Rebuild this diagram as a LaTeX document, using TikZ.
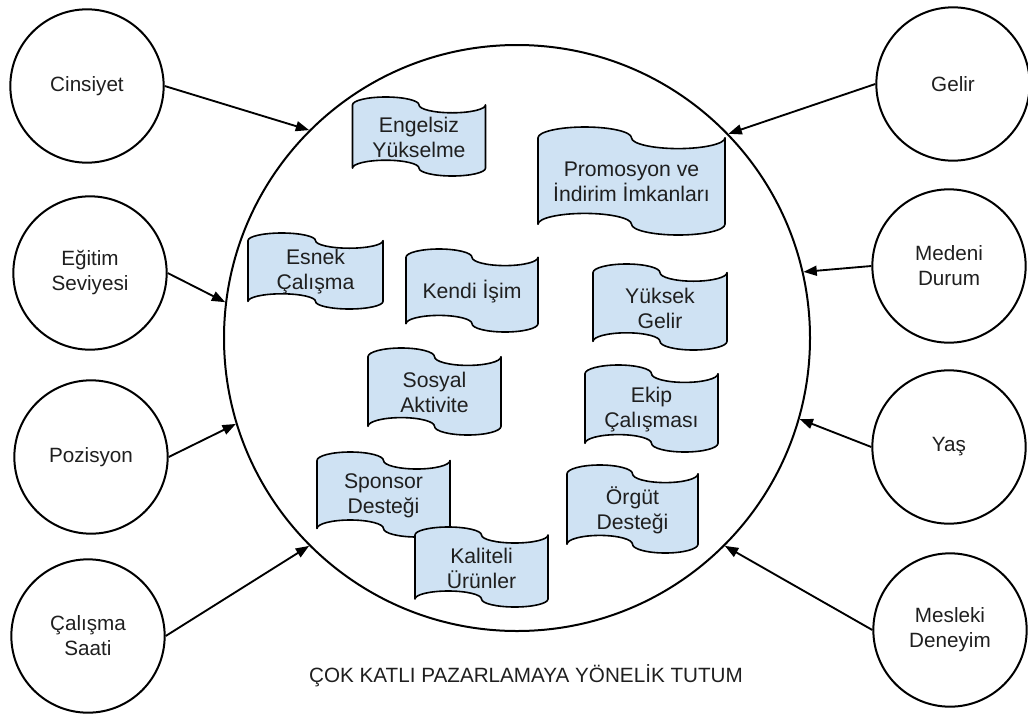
\documentclass[tikz,border=0pt]{standalone}
\usepackage{fontspec}
\setmainfont{Liberation Sans}
\usetikzlibrary{arrows.meta}

\definecolor{tapefill}{HTML}{CFE2F3}
\definecolor{inkgray}{HTML}{1F1F1F}

% punched-tape box: name, centre x, centre y, width, height, text
\newcommand{\wavebox}[6]{%
  \pgfmathsetmacro{\wbL}{#2-#4/2}%
  \pgfmathsetmacro{\wbR}{#2+#4/2}%
  \pgfmathsetmacro{\wbA}{#5/10}%
  \pgfmathsetmacro{\wbT}{#3-#5/2+\wbA}%
  \pgfmathsetmacro{\wbB}{#3+#5/2-\wbA}%
  \pgfmathsetmacro{\wbQ}{#4/4}%
  \path[tapebox] (\wbL,\wbT)
    arc[start angle=180,end angle=360,x radius=\wbQ,y radius=\wbA]
    arc[start angle=180,end angle=0,x radius=\wbQ,y radius=\wbA]
    -- (\wbR,\wbB)
    arc[start angle=0,end angle=180,x radius=\wbQ,y radius=\wbA]
    arc[start angle=0,end angle=-180,x radius=\wbQ,y radius=\wbA]
    -- cycle;
  \node[tape text] (#1) at (#2,#3+1) {#6};%
}

\begin{document}
\begin{tikzpicture}[x=0.75pt,y=-0.75pt,
  label text/.style={font=\fontsize{15.5}{18.75}\selectfont, text=inkgray,
    align=center, inner sep=0pt},
  tape text/.style={label text, font=\fontsize{15.9}{18.75}\selectfont},
  factor/.style={circle, draw=black, line width=1.5pt, minimum size=115pt,
    inner sep=0pt, label text},
  attitude/.style={circle, draw=black, line width=1.5pt, minimum size=439.5pt,
    inner sep=0pt},
  tapebox/.style={draw=black, fill=tapefill, line width=1.2pt, line join=round},
  influence/.style={line width=1.4pt, -{Triangle[length=10pt,width=7.5pt]}}]

\useasboundingbox (0,0) rectangle (1028,718);

% central attitude circle
\node[attitude] (big) at (517,338) {};

% motivations inside the circle
\wavebox{engelsiz}{419}{136.5}{133}{79}{Engelsiz\\Yükselme}
\wavebox{promosyon}{631.5}{181}{187}{108}{Promosyon ve\\İndirim İmkanları}
\wavebox{esnek}{315.5}{271}{135}{76}{Esnek\\Çalışma}
\wavebox{kendi}{472}{290.5}{132}{83}{Kendi İşim}
\wavebox{yuksek}{660}{307}{134}{86}{Yüksek\\Gelir}
\wavebox{sosyal}{434.5}{391.5}{133}{87}{Sosyal\\Aktivite}
\wavebox{ekip}{651.5}{408.5}{133}{87}{Ekip\\Çalışması}
\wavebox{sponsor}{383.5}{494.5}{133}{85}{Sponsor\\Desteği}
\wavebox{kaliteli}{481.5}{567}{133}{80}{Kaliteli\\Ürünler}
\wavebox{orgut}{632.5}{509}{131}{88}{Örgüt\\Desteği}

% demographic factors
\node[factor] (cinsiyet) at (87,86) {Cinsiyet};
\node[factor] (egitim) at (90,273) {Eğitim\\Seviyesi};
\node[factor] (pozisyon) at (91,457) {Pozisyon};
\node[factor] (saat) at (88,636) {Çalışma\\Saati};
\node[factor] (gelir) at (953,84) {Gelir};
\node[factor] (medeni) at (949,266) {Medeni\\Durum};
\node[factor] (yas) at (949,447) {Yaş};
\node[factor] (deneyim) at (950,630) {Mesleki\\Deneyim};

% influences on the attitude
\draw[influence] (cinsiyet.east) -- (big.135.3);
\draw[influence] (egitim.east) -- (big.173.5);
\draw[influence] (pozisyon.east) -- (big.197.6);
\draw[influence] (saat.east) -- (big.225);
\draw[influence] (gelir.west) -- (big.44.3);
\draw[influence] (medeni.west) -- (big.13.2);
\draw[influence] (yas.west) -- (big.-16.4);
\draw[influence] (deneyim.west) -- (big.-45);

\node[label text] (title) at (526,676) {ÇOK KATLI PAZARLAMAYA YÖNELİK TUTUM};

\end{tikzpicture}
\end{document}
